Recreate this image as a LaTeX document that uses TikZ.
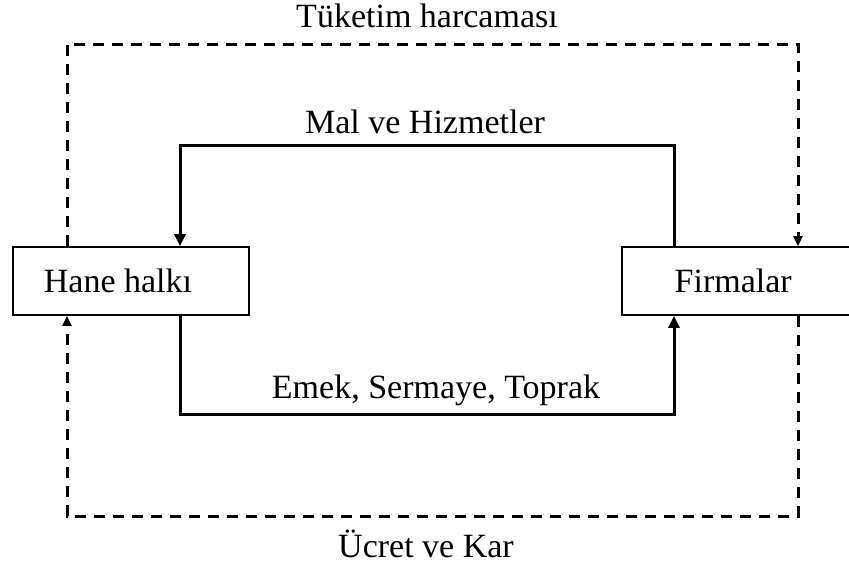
\documentclass[tikz,border=0pt]{standalone}
\usepackage{fontspec}
\setmainfont{Liberation Serif}
\usepackage{tikz}
\usetikzlibrary{arrows.meta,positioning}

\begin{document}
\begin{tikzpicture}[
        x=1pt, y=-1pt,
        font=\fontsize{34}{40}\selectfont,
        box/.style={draw, line width=1.8pt, anchor=west, align=flush left, minimum height=68pt, inner ysep=0pt},
        flow/.style={-{Triangle[length=12pt,width=11pt]}, line width=3pt},
        money/.style={-{Triangle[length=10pt,width=9pt]}, line width=3pt, dash pattern=on 11pt off 8pt},
        lbl/.style={anchor=base, inner sep=0pt},
    ]
        \useasboundingbox (0,0) rectangle (849,565);
        \node[box, text width=174pt, inner xsep=31pt] (hh) at (12,281) {Hane halkı};
        \node[box, text width=145pt, inner xsep=53pt, right=371pt of hh] (fr) {Firmalar};
        % turning points of the flows
        \coordinate (mL) at (180,145);
        \coordinate (mR) at (674,145);
        \coordinate (eR) at (674,414);
        \coordinate (tL) at (67,44);
        \coordinate (tR) at (798,44);
        \coordinate (bL) at (67,516);
        \coordinate (bR) at (798,516);
        \draw[flow] (fr.north -| mR) |- (mL) -- (hh.north -| mL);
        \draw[flow] (hh.south -| mL) |- (eR) -- (fr.south -| eR);
        \draw[money] (hh.north -| tL) |- (tR) -- (fr.north -| tR);
        \draw[money] (fr.south -| bR) |- (bL) -- (hh.south -| bL);
        \node[lbl] (tuketim) at (427,27) {Tüketim harcaması};
        \node[lbl] (mal) at (425,133) {Mal ve Hizmetler};
        \node[lbl] (emek) at (436,398) {Emek, Sermaye, Toprak};
        \node[lbl] (ucret) at (426,557) {Ücret ve Kar};
    \end{tikzpicture}
\end{document}
